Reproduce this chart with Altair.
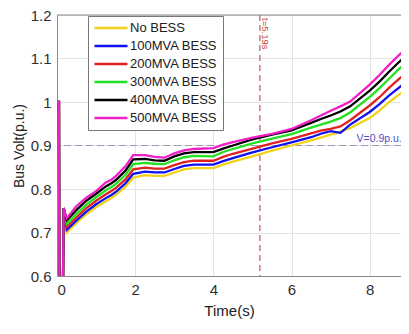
import altair as alt
import pandas as pd

# ---- data ----
series = ["No BESS", "100MVA BESS", "200MVA BESS", "300MVA BESS", "400MVA BESS", "500MVA BESS"]
colors = ["#f2d21a", "#1010f0", "#e02222", "#22e022", "#000000", "#f020c8"]

t_start = [0.0, 0.05, 0.06, 0.15, 0.17, 0.2]
v_start = [1.0, 1.0, 0.55, 0.55, 0.756, 0.745]

times = [0.25, 0.5, 0.75, 1.0, 1.25, 1.4, 1.5, 1.75, 1.95, 2.25, 2.5, 2.75, 3.0, 3.25, 3.5,
         4.0, 4.25, 4.5, 5.0, 5.5, 6.0, 6.5, 6.75, 7.0, 7.25, 7.5, 8.0, 8.25, 8.5, 8.75, 9.0]

no_bess = [0.700, 0.722, 0.742, 0.758, 0.772, 0.780, 0.786, 0.805, 0.826, 0.832, 0.830, 0.830, 0.838, 0.845, 0.848,
           0.848, 0.856, 0.863, 0.875, 0.888, 0.900, 0.912, 0.918, 0.925, 0.932, 0.940, 0.963, 0.980, 1.000, 1.017, 1.034]
bess100 = [0.706, 0.728, 0.748, 0.765, 0.779, 0.787, 0.793, 0.813, 0.835, 0.840, 0.838, 0.838, 0.846, 0.853, 0.856,
           0.856, 0.864, 0.871, 0.884, 0.896, 0.907, 0.919, 0.927, 0.933, 0.929, 0.948, 0.977, 0.995, 1.015, 1.033, 1.051]
bess200 = [0.713, 0.735, 0.756, 0.773, 0.788, 0.796, 0.802, 0.822, 0.845, 0.849, 0.847, 0.847, 0.855, 0.862, 0.865,
           0.865, 0.874, 0.881, 0.893, 0.905, 0.915, 0.928, 0.934, 0.938, 0.944, 0.958, 0.992, 1.011, 1.033, 1.053, 1.073]
bess300 = [0.720, 0.743, 0.764, 0.781, 0.797, 0.805, 0.811, 0.832, 0.857, 0.860, 0.858, 0.857, 0.866, 0.873, 0.876,
           0.875, 0.885, 0.892, 0.905, 0.916, 0.926, 0.941, 0.948, 0.955, 0.963, 0.976, 1.012, 1.032, 1.054, 1.076, 1.096]
bess400 = [0.728, 0.752, 0.773, 0.789, 0.806, 0.814, 0.820, 0.842, 0.868, 0.869, 0.866, 0.865, 0.875, 0.882, 0.885,
           0.885, 0.893, 0.900, 0.914, 0.925, 0.935, 0.952, 0.961, 0.969, 0.978, 0.990, 1.026, 1.047, 1.070, 1.092, 1.111]
bess500 = [0.733, 0.761, 0.780, 0.795, 0.815, 0.822, 0.829, 0.852, 0.878, 0.878, 0.874, 0.872, 0.882, 0.889, 0.892,
           0.894, 0.902, 0.908, 0.918, 0.927, 0.938, 0.958, 0.969, 0.980, 0.990, 1.001, 1.040, 1.062, 1.086, 1.108, 1.128]

x_ticks = [0, 2, 4, 6, 8]
y_ticks = [0.6, 0.7, 0.8, 0.9, 1.0, 1.1, 1.2]
t_mark = 5.19
v_limit = 0.9

rows = []
for name, vals in zip(series, [no_bess, bess100, bess200, bess300, bess400, bess500]):
    for t, v in zip(t_start + times, v_start + vals):
        rows.append({"t": t, "v": v, "s": name})
df = pd.DataFrame(rows)

FONT = "Liberation Sans"
GRID = "#e3e3e3"

xscale = alt.Scale(domain=[0, 8.8], nice=False, zero=False)
yscale = alt.Scale(domain=[0.6, 1.2], nice=False, zero=False)

x_axis = alt.Axis(values=x_ticks, title="Time(s)", grid=True, gridColor=GRID,
                  ticks=False, labelPadding=6, titlePadding=6,
                  domainColor="#8a8a8a", labelFontSize=15, titleFontSize=15,
                  labelColor="#303030", titleColor="#202020", labelFont=FONT, titleFont=FONT,
                  titleFontWeight="normal")
y_axis = alt.Axis(values=y_ticks, format="~g", title="Bus Volt(p.u.)", grid=True, gridColor=GRID,
                  ticks=False, labelPadding=6, titlePadding=4,
                  domainColor="#8a8a8a", labelFontSize=15, titleFontSize=14,
                  labelColor="#303030", titleColor="#202020", labelFont=FONT, titleFont=FONT,
                  titleFontWeight="normal")

lines = alt.Chart(df).mark_line(strokeWidth=2.3, clip=True).encode(
    x=alt.X("t:Q", scale=xscale, axis=x_axis),
    y=alt.Y("v:Q", scale=yscale, axis=y_axis),
    color=alt.Color("s:N", scale=alt.Scale(domain=series, range=colors), sort=series,
                    legend=alt.Legend(title=None, orient="none", legendX=31, legendY=1,
                                      symbolType="M-1,0H5", symbolSize=121, symbolStrokeWidth=2.5,
                                      labelFontSize=13, labelFont=FONT, labelColor="#202020",
                                      rowPadding=4, padding=5, labelOffset=23,
                                      fillColor="white", strokeColor="#777777")),
    order=alt.Order("t:Q"),
)

vrule = alt.Chart().mark_rule(color="#b85a5a", strokeDash=[6, 4], strokeWidth=1.2).encode(
    x=alt.X(datum=t_mark, scale=xscale))
hrule = alt.Chart().mark_rule(color="#9a9ab8", strokeDash=[7, 4], strokeWidth=1.2).encode(
    y=alt.Y(datum=v_limit, scale=yscale))
toprule = alt.Chart().mark_rule(color="#8a8a8a", strokeWidth=1).encode(
    y=alt.Y(datum=1.2, scale=yscale))

vtext = alt.Chart().mark_text(text="t=5.19s", angle=90, align="left", baseline="middle",
                              fontSize=9.5, color="#c04848", font=FONT).encode(
    x=alt.X(datum=5.33, scale=xscale), y=alt.Y(datum=1.193, scale=yscale))
htext = alt.Chart().mark_text(text="V=0.9p.u.", align="right", baseline="bottom",
                              fontSize=10.5, color="#5050c0", font=FONT, dy=-2).encode(
    x=alt.X(datum=8.82, scale=xscale), y=alt.Y(datum=v_limit, scale=yscale))

chart = alt.layer(hrule, vrule, lines, toprule, vtext, htext).properties(
    width=344, height=261,
    autosize=alt.AutoSizeParams(type="none"),
    padding={"left": 49, "top": 7, "right": 0, "bottom": 50},
).configure_view(stroke=None).configure(background="white")

chart.save("out.html", embed_options={"renderer": "svg", "actions": False})
